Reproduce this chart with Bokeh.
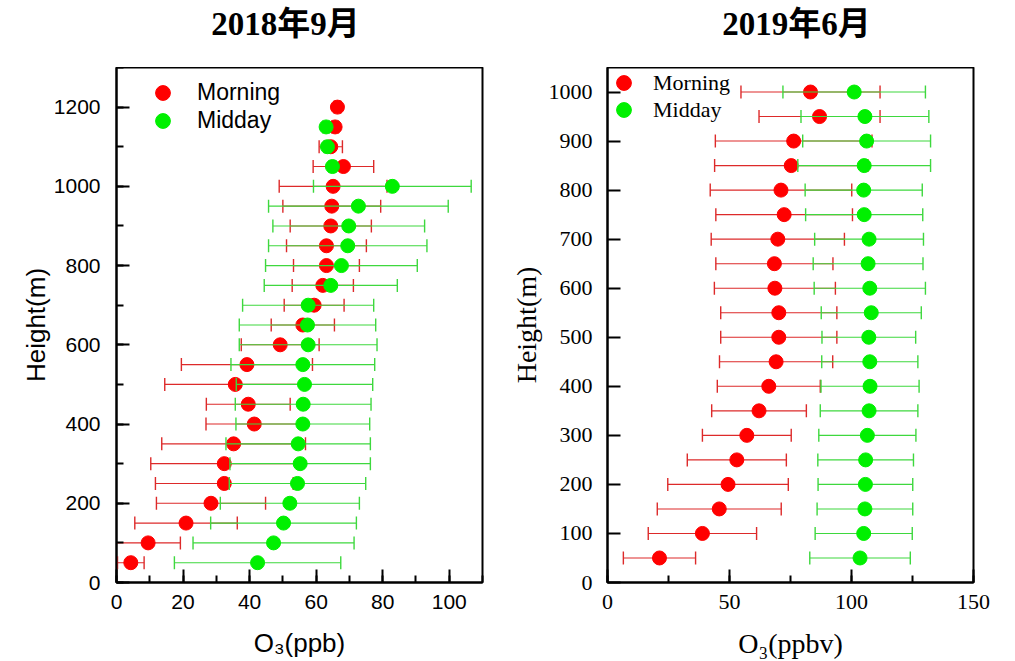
import numpy as np
from bokeh.plotting import figure
from bokeh.layouts import row, column
from bokeh.models import (ColumnDataSource, Range1d, SingleIntervalTicker,
                          Legend, LegendItem, Label)
from bokeh.embed import file_html
from bokeh.resources import INLINE

# ---- September 2018 ozone profiles (ppb) ----
sep_height_morning = [50, 100, 150, 200, 250, 300, 350, 400, 450, 500, 550, 600,
                      650, 700, 750, 800, 850, 900, 950, 1000, 1050, 1100, 1150, 1200]
sep_morning = [4.3, 9.5, 20.9, 28.4, 32.4, 32.4, 35.2, 41.4, 39.6, 35.7, 39.2, 49.2,
               56.0, 59.4, 62.0, 63.1, 63.1, 64.4, 64.7, 65.1, 68.2, 64.4, 65.7, 66.4]
sep_morning_err = [4.0, 9.7, 15.4, 16.4, 20.7, 22.1, 21.6, 14.5, 12.6, 21.2, 19.7, 11.7,
                   9.5, 9.0, 9.2, 9.9, 12.0, 12.2, 14.7, 16.2, 9.1, 3.5, 1.0, 1.0]

sep_height_midday = [50, 100, 150, 200, 250, 300, 350, 400, 450, 500, 550, 600,
                     650, 700, 750, 800, 850, 900, 950, 1000, 1050, 1100, 1150]
sep_midday = [42.4, 47.2, 50.2, 52.1, 54.4, 55.2, 54.6, 56.0, 56.1, 56.5, 56.0, 57.6,
              57.4, 57.6, 64.4, 67.6, 69.5, 69.8, 72.7, 82.9, 64.9, 63.4, 63.0]
sep_midday_err = [25.0, 24.2, 21.9, 20.9, 20.5, 21.1, 21.7, 20.1, 20.4, 20.5, 21.6, 20.7,
                  20.5, 19.7, 20.0, 22.8, 23.8, 22.8, 27.0, 23.7, 1.0, 1.0, 1.0]

# ---- June 2019 ozone profiles (ppbv) ----
jun_height = [50, 100, 150, 200, 250, 300, 350, 400, 450, 500,
              550, 600, 650, 700, 750, 800, 850, 900, 950, 1000]
jun_morning = [21.3, 38.9, 45.8, 49.4, 53.0, 57.1, 62.1, 66.1, 69.1, 70.2,
               70.2, 68.6, 68.4, 69.8, 72.4, 71.1, 75.3, 76.3, 86.9, 83.2]
jun_morning_err = [14.8, 22.2, 25.4, 24.7, 20.3, 18.2, 19.4, 21.1, 23.2, 23.8,
                   23.8, 24.8, 24.0, 27.3, 28.0, 29.0, 31.4, 32.1, 24.8, 28.5]
jun_midday = [103.5, 105.0, 105.5, 105.7, 105.8, 106.5, 107.2, 107.6, 107.5, 107.1,
              108.1, 107.5, 106.8, 107.2, 105.2, 105.0, 105.2, 106.2, 105.5, 101.1]
jun_midday_err = [20.6, 19.9, 19.6, 19.4, 19.6, 19.9, 20.0, 20.1, 19.7, 19.2,
                  20.5, 22.8, 22.5, 22.3, 24.0, 24.0, 27.2, 26.2, 26.2, 29.2]

panel_titles = ["2018年9月", "2019年6月"]

DOT_RED, BAR_RED = "#ff0000", "#dd2a2a"
DOT_GREEN, BAR_GREEN = "#00f000", "#3ed83e"


def add_series(p, heights, mean, err, dot_color, bar_color):
    mean = np.asarray(mean, dtype=float)
    err = np.asarray(err, dtype=float)
    src = ColumnDataSource(dict(h=heights, mean=mean, lo=mean - err, hi=mean + err))
    p.segment(x0="lo", y0="h", x1="hi", y1="h", source=src,
              line_color=bar_color, line_width=1.1)
    for end in ("lo", "hi"):
        p.scatter(x=end, y="h", source=src, marker="dash", angle=np.pi / 2,
                  size=13, line_color=bar_color, line_width=1.4)
    return p.scatter(x="mean", y="h", source=src, marker="circle", size=14,
                     fill_color=dot_color, line_color=dot_color)


def style_panel(p, font, tick_size, label_size, y_standoff, ylabel_standoff):
    p.outline_line_color = "black"
    p.outline_line_width = 2
    p.xgrid.visible = False
    p.ygrid.visible = False
    for ax in (p.xaxis[0], p.yaxis[0]):
        ax.axis_line_width = 2
        ax.major_tick_line_width = 2
        ax.minor_tick_line_width = 2
        ax.major_tick_in = 13
        ax.major_tick_out = 0
        ax.minor_tick_in = 7
        ax.minor_tick_out = 0
        ax.major_label_text_font = font
        ax.major_label_text_font_size = tick_size
        ax.major_label_text_color = "black"
        ax.axis_label_text_font = font
        ax.axis_label_text_font_size = label_size
        ax.axis_label_text_font_style = "normal"
        ax.axis_label_text_color = "black"
    p.xaxis.major_label_standoff = 12
    p.yaxis.major_label_standoff = y_standoff
    p.xaxis.axis_label_standoff = 16
    p.yaxis.axis_label_standoff = ylabel_standoff


def add_legend_item(p, label, renderer, loc, font, size, standoff):
    legend = Legend(items=[LegendItem(label=label, renderers=[renderer])],
                    location=loc, glyph_width=37, glyph_height=37,
                    padding=0, margin=0, label_standoff=standoff,
                    border_line_color=None, background_fill_alpha=0,
                    label_text_font=font, label_text_font_size=size,
                    label_text_color="black")
    p.add_layout(legend)


# ---- heading strip holding both panel titles ----
head = figure(width=1015, height=67, output_backend="svg", toolbar_location=None,
              x_range=Range1d(0, 1015), y_range=Range1d(0, 67),
              x_axis_type=None, y_axis_type=None, min_border=0,
              min_border_left=0, min_border_right=0, min_border_top=0,
              min_border_bottom=0, outline_line_color=None)
head.grid.visible = False
for text, cx in zip(panel_titles, (285, 796)):
    head.add_layout(Label(x=cx, y=44, text=text,
                          text_font="Liberation Serif, Noto Sans CJK SC",
                          text_font_style="bold", text_font_size="33px",
                          text_color="black", text_align="center",
                          text_baseline="alphabetic"))

# ---- left panel ----
SANS = "Liberation Sans"
p1 = figure(width=500, height=594, output_backend="svg", toolbar_location=None,
            x_range=Range1d(0, 110), y_range=Range1d(0, 1300),
            min_border_left=116, min_border_right=18, min_border_top=0,
            min_border_bottom=79,
            x_axis_label="O₃(ppb)", y_axis_label="Height(m)")
p1.xaxis.ticker = SingleIntervalTicker(interval=20, num_minor_ticks=2)
p1.yaxis.ticker = SingleIntervalTicker(interval=200, num_minor_ticks=2)
style_panel(p1, SANS, "21px", "26px", 16, 0)
r_m1 = add_series(p1, sep_height_morning, sep_morning, sep_morning_err, DOT_RED, BAR_RED)
r_d1 = add_series(p1, sep_height_midday, sep_midday, sep_midday_err, DOT_GREEN, BAR_GREEN)
add_legend_item(p1, "Morning", r_m1, (28, 471), SANS, "23px", 16)
add_legend_item(p1, "Midday", r_d1, (28, 443), SANS, "23px", 16)

# ---- right panel ----
SERIF = "Liberation Serif"
p2 = figure(width=515, height=594, output_backend="svg", toolbar_location=None,
            x_range=Range1d(0, 150), y_range=Range1d(0, 1050),
            min_border_left=107, min_border_right=42, min_border_top=0,
            min_border_bottom=79,
            x_axis_label="O₃(ppbv)", y_axis_label="Height(m)")
p2.xaxis.ticker = SingleIntervalTicker(interval=50, num_minor_ticks=2)
p2.yaxis.ticker = SingleIntervalTicker(interval=100, num_minor_ticks=0)
style_panel(p2, SERIF, "22px", "28px", 15, 4)
p2.yaxis.minor_tick_line_color = None
r_m2 = add_series(p2, jun_height, jun_morning, jun_morning_err, DOT_RED, BAR_RED)
r_d2 = add_series(p2, jun_height, jun_midday, jun_midday_err, DOT_GREEN, BAR_GREEN)
add_legend_item(p2, "Morning", r_m2, (-2, 481), SERIF, "22px", 11)
add_legend_item(p2, "Midday", r_d2, (-2, 454), SERIF, "22px", 11)

layout = column(head, row(p1, p2))
open("out.html", "w").write(file_html(layout, INLINE))
